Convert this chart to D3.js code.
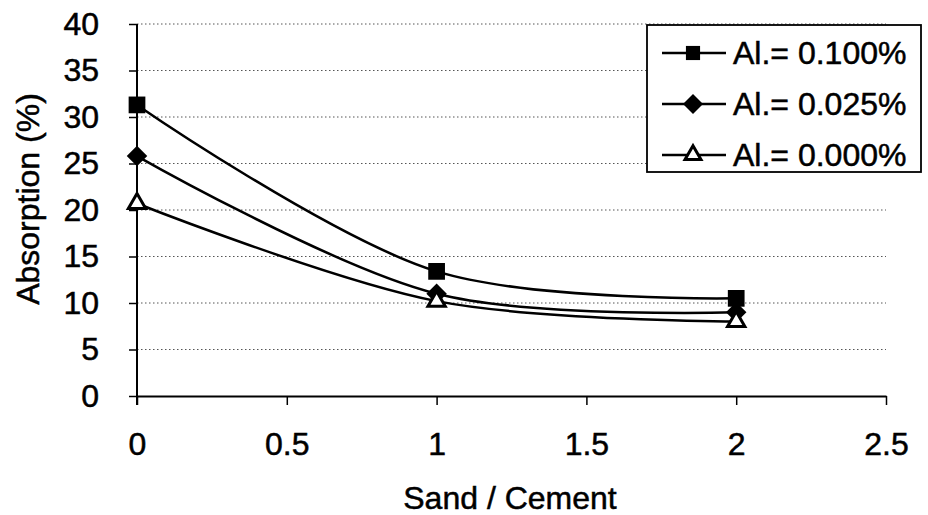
<!DOCTYPE html>
<html>
<head>
<meta charset="utf-8">
<script src="https://cdn.jsdelivr.net/npm/d3@7"></script>
<style>
  body { margin: 0; background: #fff; }
  text { font-family: "Liberation Sans", Arial, Helvetica, sans-serif; fill: #000; stroke: #000; stroke-width: 0.5px; }
</style>
</head>
<body>
<div id="wrapper"></div>
<script>
// values
const sandCement = [0, 1, 2];
const al0100 = [31.3, 13.4, 10.5];
const al0025 = [25.8, 11.0, 9.0];
const al0000 = [20.7, 10.2, 8.0];
const seriesNames = ["Al.= 0.100%", "Al.= 0.025%", "Al.= 0.000%"];
const xTicks = [0, 0.5, 1, 1.5, 2, 2.5];
const yTicks = [0, 5, 10, 15, 20, 25, 30, 35, 40];

function buildPlot() {
    const series = [
        { name: seriesNames[0], values: al0100, marker: "square" },
        { name: seriesNames[1], values: al0025, marker: "diamond" },
        { name: seriesNames[2], values: al0000, marker: "triangle" }
    ];

    var dimension = {
        width: 928,
        height: 515,
        margin: {
            top: 24,
            left: 137,
            bottom: 119,
            right: 42
        }
    };
    dimension.boundedWidth = dimension.width - dimension.margin.left - dimension.margin.right;
    dimension.boundedHeight = dimension.height - dimension.margin.top - dimension.margin.bottom;

    const svg = d3.select("#wrapper").append("svg")
        .attr("width", dimension.width)
        .attr("height", dimension.height);

    const bounded = svg.append("g")
        .attr("transform", `translate(${dimension.margin.left},${dimension.margin.top})`);

    const xScaler = d3.scaleLinear()
        .domain([0, 2.5])
        .range([0, dimension.boundedWidth]);

    const yScaler = d3.scaleLinear()
        .domain([0, 40])
        .range([dimension.boundedHeight, 0]);

    // dotted grid
    bounded.append("g")
        .selectAll("line")
        .data(yTicks.filter(d => d > 0))
        .join("line")
        .attr("x1", 0)
        .attr("x2", dimension.boundedWidth)
        .attr("y1", d => yScaler(d))
        .attr("y2", d => yScaler(d))
        .attr("stroke", "#555")
        .attr("stroke-width", 1)
        .attr("stroke-dasharray", "1.5,2.5");

    const xAxis = d3.axisBottom(xScaler)
        .tickValues(xTicks)
        .tickFormat(d => String(d))
        .tickSize(9)
        .tickSizeOuter(0)
        .tickPadding(27);

    const yAxis = d3.axisLeft(yScaler)
        .tickValues(yTicks)
        .tickSize(8)
        .tickSizeOuter(0)
        .tickPadding(30);

    const gx = bounded.append("g")
        .attr("transform", `translate(0,${dimension.boundedHeight})`)
        .call(xAxis);
    const gy = bounded.append("g").call(yAxis);

    [gx, gy].forEach(g => {
        g.select(".domain").attr("stroke", "#000").attr("stroke-width", 2);
        g.selectAll(".tick line").attr("stroke", "#000").attr("stroke-width", 1.5);
        g.selectAll(".tick text")
            .style("font-family", "'Liberation Sans', Arial, sans-serif")
            .style("font-size", "32px")
            .attr("fill", "#000");
    });
    // y-axis line runs down past the x axis a little
    gy.select(".domain").attr("d", `M0,0V${dimension.boundedHeight + 9}`);

    const lineGenerator = d3.line()
        .x((d, i) => xScaler(sandCement[i]))
        .y(d => yScaler(d))
        .curve(d3.curveCatmullRom.alpha(0.5));

    const symbolFor = {
        square: d3.symbol().type(d3.symbolSquare).size(280),
        diamond: d3.symbol().type(d3.symbolSquare).size(210),
        triangle: d3.symbol().type(d3.symbolTriangle).size(130)
    };
    const legendSymbol = {
        square: d3.symbol().type(d3.symbolSquare).size(200),
        diamond: d3.symbol().type(d3.symbolSquare).size(200),
        triangle: d3.symbol().type(d3.symbolTriangle).size(110)
    };

    function drawMarker(g, kind, x, y, gen) {
        const p = g.append("path")
            .attr("d", gen[kind]())
            .attr("transform", `translate(${x},${y})` + (kind == "diamond" ? " rotate(45)" : ""));
        if (kind == "triangle") {
            p.attr("fill", "#fff").attr("stroke", "#000").attr("stroke-width", 3);
        } else {
            p.attr("fill", "#000");
        }
    }

    series.forEach(s => {
        bounded.append("path")
            .attr("d", lineGenerator(s.values))
            .attr("fill", "none")
            .attr("stroke", "#000")
            .attr("stroke-width", 2.5);
    });
    series.forEach(s => {
        const mg = bounded.append("g");
        s.values.forEach((v, i) => drawMarker(mg, s.marker, xScaler(sandCement[i]), yScaler(v), symbolFor));
    });

    // legend
    const legend = svg.append("g").attr("transform", "translate(647,25)");
    legend.append("rect")
        .attr("width", 274)
        .attr("height", 147)
        .attr("fill", "#fff")
        .attr("stroke", "#000")
        .attr("stroke-width", 1.8);

    series.forEach((s, i) => {
        const row = legend.append("g").attr("transform", `translate(0,${28 + i * 51})`);
        row.append("line")
            .attr("x1", 15).attr("x2", 79)
            .attr("stroke", "#000").attr("stroke-width", 2.5);
        drawMarker(row, s.marker, 46, 0, legendSymbol);
        row.append("text")
            .attr("x", 86)
            .attr("dy", "0.35em")
            .style("font-size", "32px")
            .text(s.name);
    });

    svg.append("text")
        .attr("x", 510)
        .attr("y", 509)
        .attr("text-anchor", "middle")
        .style("font-size", "32px")
        .text("Sand / Cement");

    svg.append("text")
        .attr("text-anchor", "middle")
        .attr("transform", "translate(39,199) rotate(-90)")
        .style("font-size", "32px")
        .text("Absorption (%)");
}

buildPlot();
</script>
</body>
</html>
